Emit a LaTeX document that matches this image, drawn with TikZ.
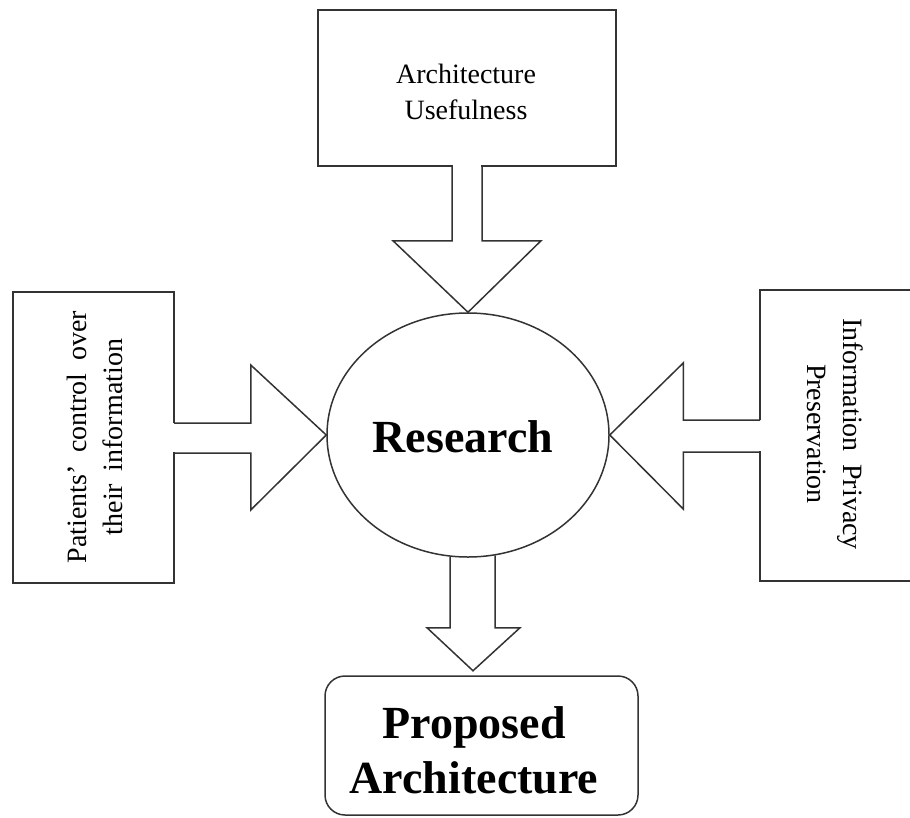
\documentclass[tikz,border=0pt]{standalone}
\usepackage{fontspec}
\setmainfont{Liberation Serif}
\usetikzlibrary{shapes.geometric,calc}
\begin{document}
\begin{tikzpicture}[x=1pt,y=-1pt,line width=1.5pt,
  box/.style={draw=black!80,rectangle,inner sep=0pt},
  blk/.style={draw=black!80,line join=miter},
  txt/.style={font=\fontsize{28}{36}\selectfont,align=center,inner sep=0pt},
  big/.style={font=\fontsize{46}{55}\selectfont\bfseries,align=center,inner sep=0pt}]
\useasboundingbox (0,0) rectangle (910,817);
\clip (0,0) rectangle (910,817);
% boxes
\node[box,minimum width=298pt,minimum height=156pt] (top) at (467,88) {};
\node[txt] (toptext) at (466,92) {Architecture\\Usefulness};
\node[box,minimum width=161pt,minimum height=291pt] (left) at (93.5,437.5) {};
\node[txt,rotate=90] (lefttext) at (95,437) {Patients’\hspace{0.45em}control\hspace{0.45em}over\\their\hspace{0.45em}information};
\node[box,minimum width=154pt,minimum height=291pt] (right) at (837,435.5) {};
\node[txt,rotate=-90] (righttext) at (835,434) {Information\hspace{0.45em}Privacy\\Preservation};
\node[draw=black!80,ellipse,minimum width=282pt,minimum height=244pt,inner sep=0pt] (res) at (468,435) {};
\node[big] (restext) at (463,437) {Research};
\node[box,rounded corners=20pt,minimum width=313pt,minimum height=139pt] (prop) at (481.5,745.5) {};
\node[big] (proptext) at (474,750) {Proposed\\Architecture};
% top arrow
\fill[white] ($(top.south)+(-14.2,-3)$) rectangle ($(top.south)+(14.2,3)$);
\draw[blk] ($(top.south)+(-15,-0.75)$) -- ($(top.south)+(-15,74)$) -- ($(top.south)+(-74,74)$)
  -- (res.north) -- ($(top.south)+(74,74)$) -- ($(top.south)+(15,74)$) -- ($(top.south)+(15,-0.75)$);
% left arrow
\fill[white] ($(left.east)+(-3,-14.2)$) rectangle ($(left.east)+(3,14.2)$);
\draw[blk] ($(left.east)+(-0.75,-14.5)$) -- ($(left.east)+(76,-14.5)$) -- ($(left.east)+(76,-72.5)$)
  -- (res.west) -- ($(left.east)+(76,72.5)$) -- ($(left.east)+(76,15.5)$) -- ($(left.east)+(-0.75,15.5)$);
% right arrow
\fill[white] ($(right.west)+(-3,-15.2)$) rectangle ($(right.west)+(3,15.2)$);
\draw[blk] ($(right.west)+(0.75,-15.5)$) -- ($(right.west)+(-76,-15.5)$) -- ($(right.west)+(-76,-72.5)$)
  -- (res.east) -- ($(right.west)+(-76,73.5)$) -- ($(right.west)+(-76,16.5)$) -- ($(right.west)+(0.75,16.5)$);
% bottom arrow
\coordinate (btip) at ($(res.south)+(5,113)$);
\draw[blk] ($(res.south)+(-18,-1)$) -- ($(res.south)+(-18,70)$) -- ($(res.south)+(-41,70)$)
  -- (btip) -- ($(res.south)+(52,70)$) -- ($(res.south)+(27,70)$) -- ($(res.south)+(27,-2.5)$);
\end{tikzpicture}
\end{document}
